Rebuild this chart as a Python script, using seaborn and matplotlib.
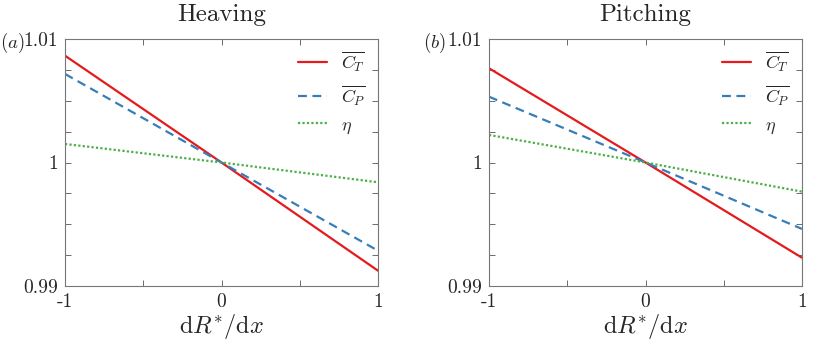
import numpy as np
import pandas as pd
import matplotlib
matplotlib.use("Agg")
import matplotlib.pyplot as plt
from matplotlib.ticker import MultipleLocator, FixedLocator
import seaborn as sns

# --- data (values at dR*/dx = -1, 0, 1) ---
x_vals = [-1.0, 0.0, 1.0]
heave_ct = [1.00865, 1.0, 0.99124]
heave_cp = [1.00717, 1.0, 0.99286]
heave_eta = [1.0015, 1.0, 0.9984]
pitch_ct = [1.00763, 1.0, 0.99229]
pitch_cp = [1.00533, 1.0, 0.99462]
pitch_eta = [1.00223, 1.0, 0.99764]

series_names = [r"$\overline{C_T}$", r"$\overline{C_P}$", r"$\eta$"]
panel_titles = ["Heaving", "Pitching"]
panel_tags = [r"$(a)$", r"$(b)$"]
y_tick_labels = ["0.99", "1", "1.01"]
x_tick_labels = ["-1", "0", "1"]

sns.set_style("ticks")
plt.rcParams["font.family"] = "serif"
plt.rcParams["font.serif"] = ["cmr10", "DejaVu Serif"]
plt.rcParams["mathtext.fontset"] = "cm"
plt.rcParams["axes.unicode_minus"] = False
plt.rcParams["axes.formatter.use_mathtext"] = True

palette = {series_names[0]: "#e41a1c", series_names[1]: "#377eb8", series_names[2]: "#4daf4a"}
dashes = {series_names[0]: "", series_names[1]: (4, 2.5), series_names[2]: (1, 1)}


def make_frame(ct, cp, eta):
    rows = []
    for name, vals in zip(series_names, [ct, cp, eta]):
        for x, v in zip(x_vals, vals):
            rows.append({"x": x, "y": v, "series": name})
    return pd.DataFrame(rows)


frames = [make_frame(heave_ct, heave_cp, heave_eta),
          make_frame(pitch_ct, pitch_cp, pitch_eta)]

fig = plt.figure(figsize=(8.3, 3.41), dpi=100)
W, H = 830.0, 341.0
boxes = [(65, 378), (489, 802)]
tag_x = [0, 423]
top_px, bot_px = 39, 286

for i, df in enumerate(frames):
    x0, x1 = boxes[i]
    ax = fig.add_axes([x0 / W, 1 - bot_px / H, (x1 - x0) / W, (bot_px - top_px) / H])
    sns.lineplot(data=df, x="x", y="y", hue="series", style="series",
                 palette=palette, dashes=dashes, linewidth=1.6, ax=ax)
    ax.set_xlim(-1, 1)
    ax.set_ylim(0.99, 1.01)
    ax.xaxis.set_major_locator(FixedLocator([-1, 0, 1]))
    ax.xaxis.set_minor_locator(FixedLocator([-0.5, 0.5]))
    ax.set_xticklabels(x_tick_labels)
    ax.yaxis.set_major_locator(FixedLocator([0.99, 1.0, 1.01]))
    ax.yaxis.set_minor_locator(MultipleLocator(0.0025))
    ax.set_yticklabels(y_tick_labels)
    ax.tick_params(which="both", direction="in", top=True, right=True,
                   length=4, width=0.6, color="#555555", labelsize=14, pad=5)
    for sp in ax.spines.values():
        sp.set_color("#777777")
        sp.set_linewidth(0.8)
    ax.set_xlabel(r"$\mathrm{d}R^{*}/\mathrm{d}x$", fontsize=17.5, labelpad=1)
    ax.set_ylabel("")
    ax.set_title(panel_titles[i], fontsize=18, pad=13)
    ax.legend(frameon=False, loc="upper right", bbox_to_anchor=(1.0, 1.01),
              fontsize=13, handlelength=1.6, labelspacing=0.55,
              borderaxespad=0.3, handletextpad=0.8)
    fig.text(tag_x[i] / W, 1 - 43 / H, panel_tags[i], fontsize=13.5, va="center", ha="left")

fig.savefig("out.png", dpi=100)
